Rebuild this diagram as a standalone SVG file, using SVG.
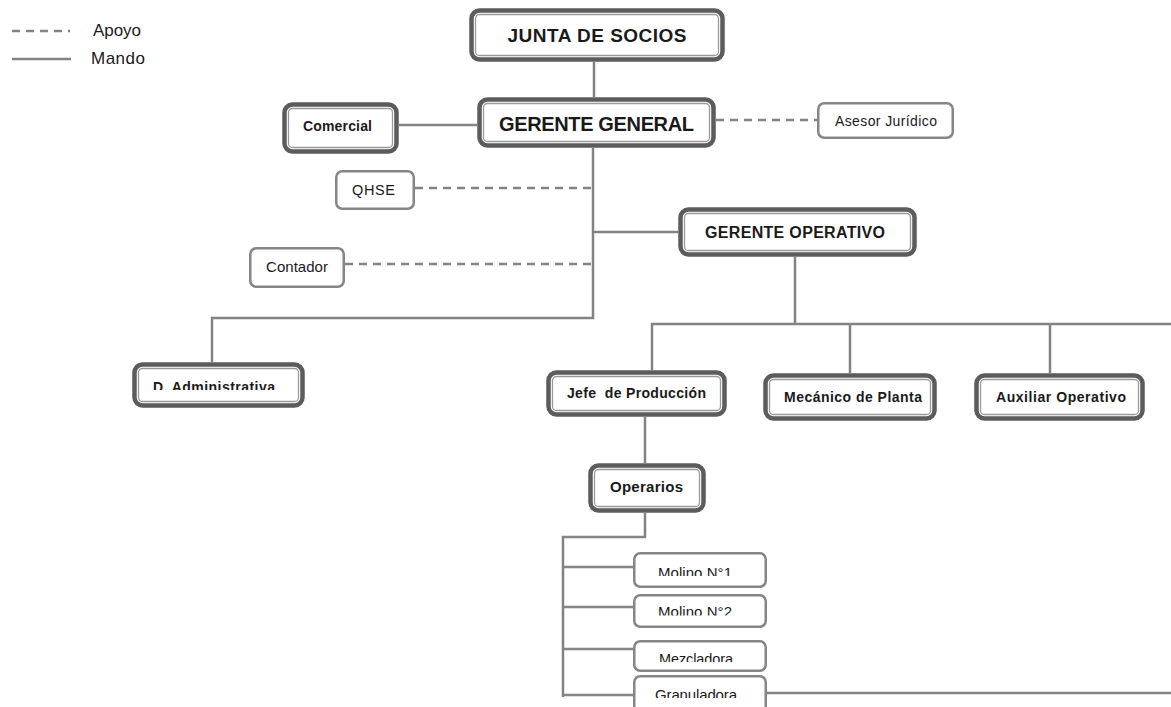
<svg xmlns="http://www.w3.org/2000/svg" width="1171" height="707" viewBox="0 0 1171 707">
<style>
.bg{fill:#fff}
.o{fill:#fff;stroke:#5c5c5c;stroke-width:4.5}
.i{fill:none;stroke:#9a9a9a;stroke-width:1.3}
.t{fill:#fff;stroke:#868686;stroke-width:2.5}
.ln{fill:none;stroke:#838383;stroke-width:2.5}
.da{stroke-dasharray:8 6}
text{font-family:"Liberation Sans",Arial,sans-serif;fill:#1a1a1a}
.b{font-weight:bold}
.m{text-anchor:middle}
</style>
<defs>
<clipPath id="cDA"><rect x="140" y="370" width="160" height="20"/></clipPath>
<clipPath id="cM1"><rect x="636" y="556" width="128" height="20"/></clipPath>
<clipPath id="cM2"><rect x="636" y="597" width="128" height="18.5"/></clipPath>
<clipPath id="cMz"><rect x="636" y="643" width="128" height="19"/></clipPath>
<clipPath id="cGr"><rect x="636" y="678" width="128" height="20"/></clipPath>
</defs>
<rect class="bg" x="0" y="0" width="1171" height="707"/>

<g id="legend">
<path class="ln da" d="M12 31 H70"/>
<path class="ln" d="M12 59 H71"/>
<text x="93" y="36" font-size="17" textLength="48">Apoyo</text>
<text x="91" y="64" font-size="17" textLength="54">Mando</text>
</g>

<g id="connectors">
<path class="ln" d="M594 62 V97"/>
<path class="ln" d="M399 125 H477"/>
<path class="ln da" d="M716 120 H817"/>
<path class="ln" d="M593 148 V318 H212 V362"/>
<path class="ln da" d="M415 188 H593"/>
<path class="ln da" d="M345 264 H596"/>
<path class="ln" d="M593 232 H678"/>
<path class="ln" d="M795 257 V324"/>
<path class="ln" d="M652 370 V324 H1171"/>
<path class="ln" d="M850 324 V373"/>
<path class="ln" d="M1050 324 V373"/>
<path class="ln" d="M645 417 V463"/>
<path class="ln" d="M645 513 V537 H563 V697"/>
<path class="ln" d="M563 567 H633 M563 607 H633 M563 649 H633 M563 695 H633"/>
<path class="ln" d="M767 693 H1171"/>
</g>

<g id="junta">
<rect class="o" x="471.5" y="10.5" width="251" height="49" rx="8"/>
<rect class="i" x="475.5" y="14.5" width="243" height="41" rx="4"/>
<text class="b m" x="597" y="41.5" font-size="19" textLength="179">JUNTA DE SOCIOS</text>
</g>

<g id="gerente-general">
<rect class="o" x="479.5" y="99.5" width="234" height="46" rx="8"/>
<rect class="i" x="483.5" y="103.5" width="226" height="38" rx="4"/>
<text class="b m" x="596.5" y="131" font-size="20" textLength="195">GERENTE GENERAL</text>
</g>

<g id="comercial">
<rect class="o" x="284.5" y="104.5" width="112" height="47" rx="8"/>
<rect class="i" x="288.5" y="108.5" width="104" height="39" rx="4"/>
<text class="b m" x="337.5" y="131" font-size="14" textLength="69">Comercial</text>
</g>

<g id="asesor">
<rect class="t" x="818.25" y="103.25" width="134.5" height="34.5" rx="6"/>
<text class="m" x="886" y="126" font-size="14" textLength="102">Asesor Jurídico</text>
</g>

<g id="qhse">
<rect class="t" x="336.25" y="171.25" width="77.5" height="37.5" rx="6"/>
<text class="m" x="373.5" y="195" font-size="14.5" textLength="43">QHSE</text>
</g>

<g id="contador">
<rect class="t" x="250.25" y="248.25" width="93.5" height="38.5" rx="6"/>
<text class="m" x="297" y="272" font-size="15" textLength="62">Contador</text>
</g>

<g id="gerente-operativo">
<rect class="o" x="680.5" y="209.5" width="234" height="45" rx="8"/>
<rect class="i" x="684.5" y="213.5" width="226" height="37" rx="4"/>
<text class="b m" x="795" y="238" font-size="16" textLength="180">GERENTE OPERATIVO</text>
</g>

<g id="d-administrativa">
<rect class="o" x="134.5" y="364.5" width="168" height="41" rx="8"/>
<rect class="i" x="138.5" y="368.5" width="160" height="33" rx="4"/>
<text class="b" x="153" y="391.8" font-size="14" textLength="122" clip-path="url(#cDA)">D. Administrativa</text>
</g>

<g id="jefe-produccion">
<rect class="o" x="548.5" y="372.5" width="176" height="42" rx="8"/>
<rect class="i" x="552.5" y="376.5" width="168" height="34" rx="4"/>
<text class="b m" x="636.5" y="398" font-size="14" textLength="139" xml:space="preserve">Jefe  de Producción</text>
</g>

<g id="mecanico">
<rect class="o" x="765.5" y="375.5" width="169" height="43" rx="8"/>
<rect class="i" x="769.5" y="379.5" width="161" height="35" rx="4"/>
<text class="b m" x="853" y="402" font-size="14" textLength="138">Mecánico de Planta</text>
</g>

<g id="auxiliar">
<rect class="o" x="976.5" y="375.5" width="166" height="43" rx="8"/>
<rect class="i" x="980.5" y="379.5" width="158" height="35" rx="4"/>
<text class="b m" x="1061" y="402" font-size="14" textLength="130">Auxiliar Operativo</text>
</g>

<g id="operarios">
<rect class="o" x="590.5" y="465.5" width="113" height="45" rx="8"/>
<rect class="i" x="594.5" y="469.5" width="105" height="37" rx="4"/>
<text class="b m" x="646.5" y="492" font-size="15" textLength="73">Operarios</text>
</g>

<g id="molino1">
<rect class="t" x="634.25" y="553.25" width="131.5" height="33.5" rx="6"/>
<text class="m" x="695" y="577.5" font-size="15" textLength="74" clip-path="url(#cM1)">Molino N°1</text>
</g>

<g id="molino2">
<rect class="t" x="634.25" y="595.25" width="131.5" height="31.5" rx="6"/>
<text class="m" x="695" y="617" font-size="15" textLength="74" clip-path="url(#cM2)">Molino N°2</text>
</g>

<g id="mezcladora">
<rect class="t" x="634.25" y="641.25" width="131.5" height="29.5" rx="6"/>
<text class="m" x="696" y="663.5" font-size="14.5" textLength="74" clip-path="url(#cMz)">Mezcladora</text>
</g>

<g id="granuladora">
<rect class="t" x="634.25" y="676.25" width="131.5" height="40" rx="6"/>
<text class="m" x="696" y="699.5" font-size="15" textLength="82" clip-path="url(#cGr)">Granuladora</text>
</g>
</svg>
